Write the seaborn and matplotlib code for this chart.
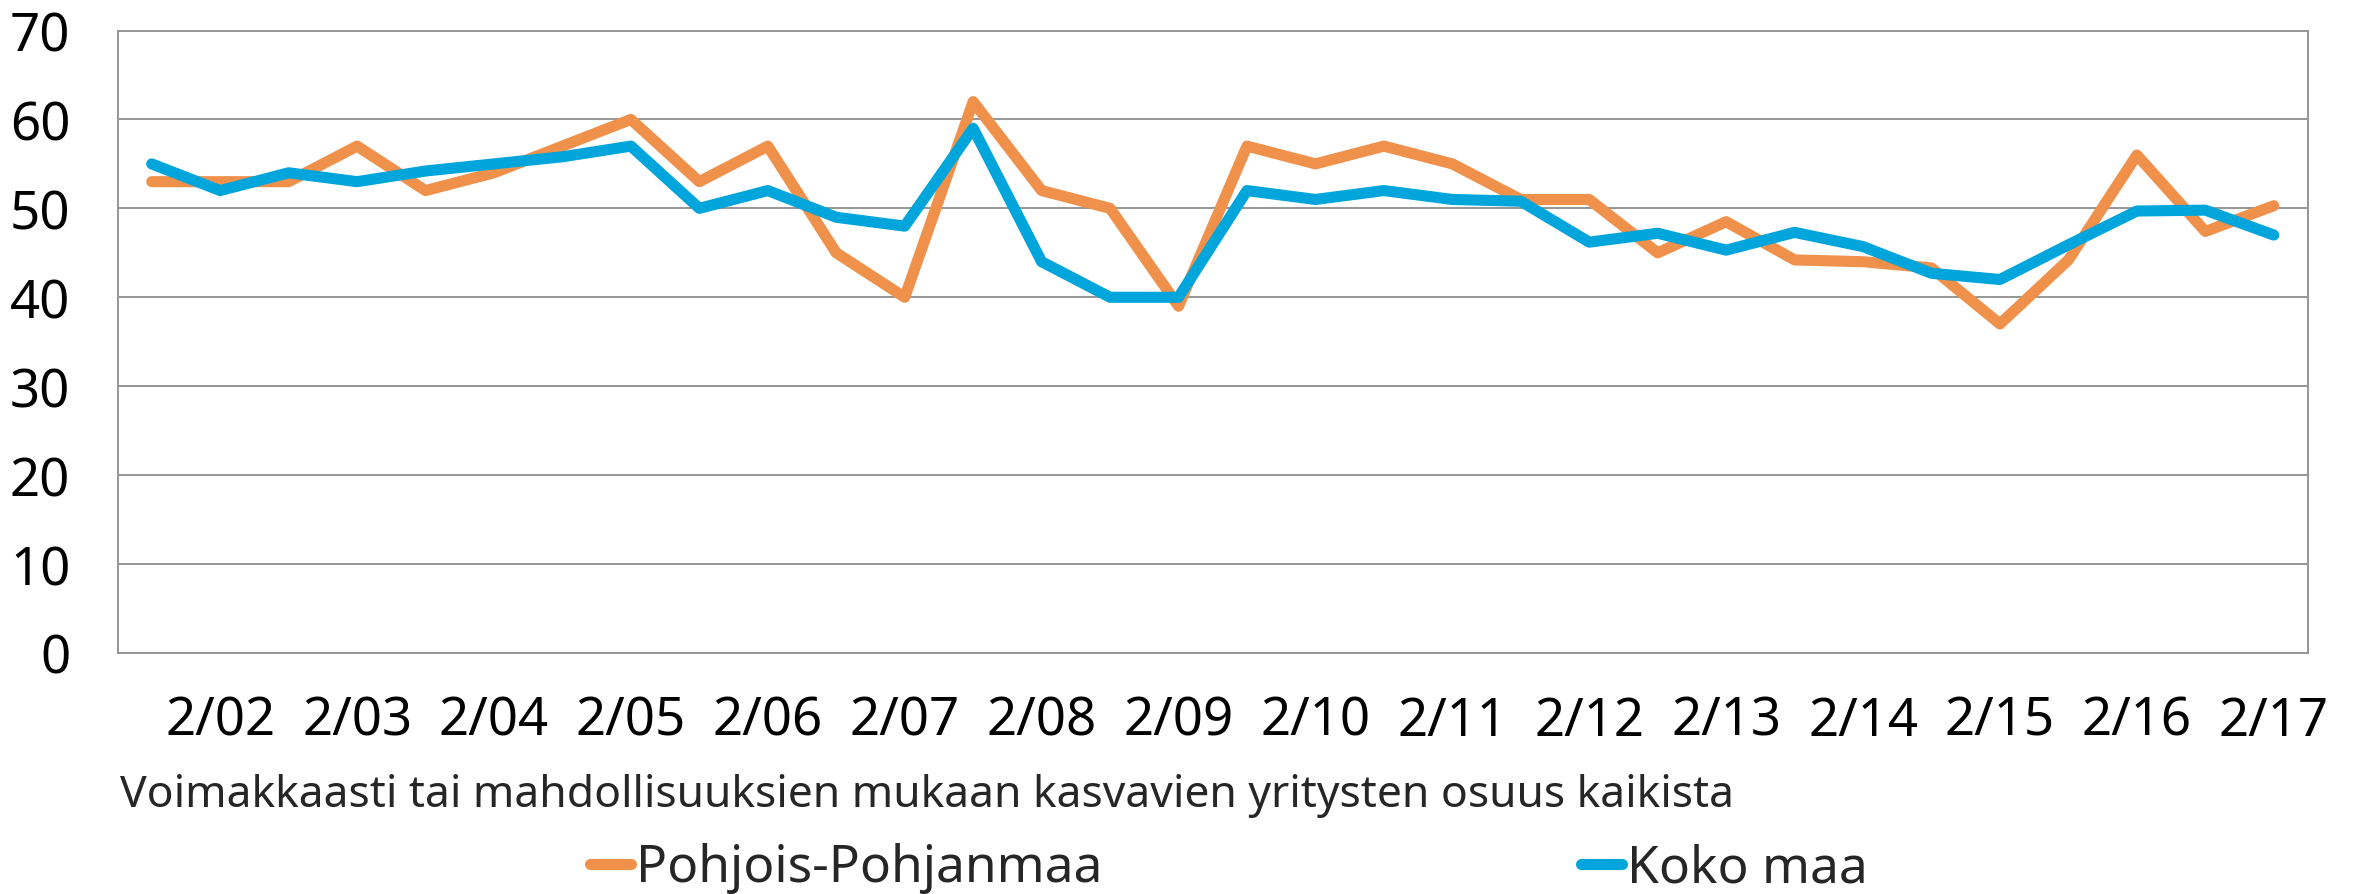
import numpy as np
import pandas as pd
import matplotlib
matplotlib.use("Agg")
import matplotlib.pyplot as plt
from matplotlib.lines import Line2D
import seaborn as sns

# ---- data ----
tick_labels = ['2/02', '2/03', '2/04', '2/05', '2/06', '2/07', '2/08', '2/09',
               '2/10', '2/11', '2/12', '2/13', '2/14', '2/15', '2/16', '2/17']
series_names = ['Pohjois-Pohjanmaa', 'Koko maa']
pohjois = [53, 53, 53, 57, 52, 54, 57, 60, 53, 57, 45, 40, 62, 52, 50, 39,
           57, 55, 57, 55, 51, 51, 45, 48.5, 44.2, 44, 43.3, 37, 44.2, 56, 47.4, 50.3]
koko = [55, 52, 54, 53, 54.2, 55, 55.8, 57, 50, 52, 49, 48, 59, 44, 40, 40,
        52, 51, 52, 51, 50.8, 46.2, 47.2, 45.3, 47.3, 45.7, 42.7, 42, 45.9, 49.7, 49.8, 47]
xlabel_text = 'Voimakkaasti tai mahdollisuuksien mukaan kasvavien yritysten osuus kaikista'
colors = ['#F0914B', '#00A5DB']
y_ticks = [0, 10, 20, 30, 40, 50, 60, 70]

sns.set_style('white')
plt.rcParams['font.family'] = ['Noto Sans', 'DejaVu Sans']

W, H = 2358, 895
fig = plt.figure(figsize=(W / 100, H / 100), dpi=100)
left, right, top, bottom = 117.5, 2308, 31.5, 654
ax = fig.add_axes([left / W, 1 - bottom / H, (right - left) / W, (bottom - top) / H])

n = len(pohjois)
period = np.arange(n)
df = pd.DataFrame({
    'period': np.concatenate([period, period]),
    'value': pohjois + koko,
    'series': [series_names[0]] * n + [series_names[1]] * n,
})
palette = dict(zip(series_names, colors))
sns.lineplot(data=df, x='period', y='value', hue='series', hue_order=series_names,
             palette=palette, lw=8, ax=ax, legend=False, sort=False,
             solid_capstyle='round', solid_joinstyle='round')

ax.set_xlim(-0.5, n - 0.5)
ax.set_ylim(0, 70)
ax.set_yticks(y_ticks)
ax.set_xticks(period[1::2])
ax.set_xticklabels(tick_labels)
ax.yaxis.grid(True, color='#969696', lw=1.4)
ax.xaxis.grid(False)
ax.set_axisbelow(True)
for s in ax.spines.values():
    s.set_visible(True)
    s.set_color('#969696')
    s.set_linewidth(1.4)
ax.tick_params(axis='both', length=0, labelsize=38, colors='black')
ax.tick_params(axis='x', pad=30)
ax.tick_params(axis='y', pad=34)
ax.set_xlabel('')
ax.set_ylabel('')

fig.text(120 / W, 1 - 807 / H, xlabel_text, fontsize=32, ha='left', va='baseline')

handles = [Line2D([0], [0], color=c, lw=8, solid_capstyle='round') for c in colors]
fig.legend(handles, series_names, loc='center', bbox_to_anchor=(1229 / W, 1 - 869 / H),
           ncol=2, frameon=False, fontsize=37, handlelength=0.8, handletextpad=0.1,
           columnspacing=9.3, borderpad=0, borderaxespad=0)

fig.savefig('out.png', dpi=100)
